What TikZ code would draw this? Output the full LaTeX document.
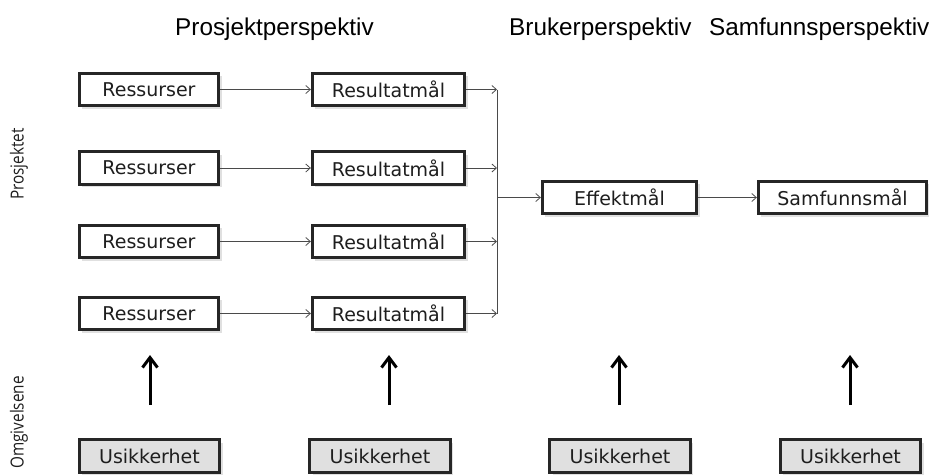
\documentclass[tikz,border=0pt]{standalone}
\usepackage{fontspec}
\usetikzlibrary{arrows.meta,shadows}
\newfontfamily\boxfont{DejaVu Sans}
\newfontfamily\headfont{Liberation Sans}
\newfontfamily\sidefont{Open Sans}
\definecolor{frame}{HTML}{262626}
\definecolor{conn}{HTML}{4A4A4A}
\definecolor{grayfill}{HTML}{E0E0E0}
\definecolor{ink}{HTML}{1E1E1E}

\begin{document}
\begin{tikzpicture}[x=1pt,y=-1pt,
  goal/.style={draw=frame, line width=2.8pt, fill=white, inner sep=0pt,
    minimum height=32.5pt, text=ink,
    font=\boxfont\fontsize{19}{21}\selectfont,
    drop shadow={shadow xshift=3pt, shadow yshift=-3pt, opacity=0.12, fill=black},
    drop shadow={shadow xshift=1.6pt, shadow yshift=-1.6pt, opacity=0.25, fill=black}},
  risk/.style={goal, fill=grayfill, minimum width=140.5pt},
  heading/.style={anchor=base west, inner sep=0pt, font=\headfont\fontsize{24.3}{27}\selectfont},
  side/.style={rotate=90, xscale=0.85, inner sep=0pt, text=ink, font=\sidefont\fontsize{18}{20}\selectfont},
  flow/.style={draw=conn, line width=0.8pt, -{Straight Barb[length=4.5pt,width=8pt]}},
  rail/.style={draw=conn, line width=0.8pt},
  lift/.style={draw=black, line width=3pt, -{Straight Barb[length=10pt,width=15pt]}}
]
\useasboundingbox (0,0) rectangle (929,475);

% column headings
\node[heading] (hp) at (175,35) {Prosjektperspektiv};
\node[heading] (hb) at (509,35) {Brukerperspektiv};
\node[heading] (hs) at (709,35) {Samfunnsperspektiv};

% row labels
\node[side] (lp) at (19,164) {Prosjektet};
\node[side, anchor=east] (lo) at (19,376) {Omgivelsene};

% resources and result goals
\foreach \i/\y in {1/89.5, 2/168, 3/241.5, 4/313.5} {
  \node[goal, minimum width=139.5pt] (res\i) at (149,\y) {Ressurser};
  \node[goal, minimum width=152.5pt] (rm\i) at (388.5,\y) {Resultatmål};
  \coordinate (j\i) at (497,\y);
}
\coordinate (jm) at (497,197.5);

\node[goal, minimum width=154.5pt] (eff) at (619.5,197.5) {Effektmål};
\node[goal, minimum width=168.5pt] (samf) at (842.5,197.5) {Samfunnsmål};

% connectors
\foreach \i in {1,...,4} {
  \draw[flow] (res\i) -- (rm\i);
  \draw[flow] (rm\i.east |- j\i) -- (j\i);
}
\draw[rail] (j1) -- (j4);
\draw[flow] (jm) -- (eff);
\draw[flow] (eff) -- (samf);

% uncertainty from the surroundings
\foreach \k/\bx/\ax in {1/149.5/150, 2/380/389, 3/620/619, 4/850.5/850} {
  \node[risk] (u\k) at (\bx,456) {Usikkerhet};
  \coordinate (ut\k) at (\ax,405);
  \coordinate (uh\k) at (\ax,355);
  \draw[lift] (ut\k) -- (uh\k);
}
\end{tikzpicture}
\end{document}
